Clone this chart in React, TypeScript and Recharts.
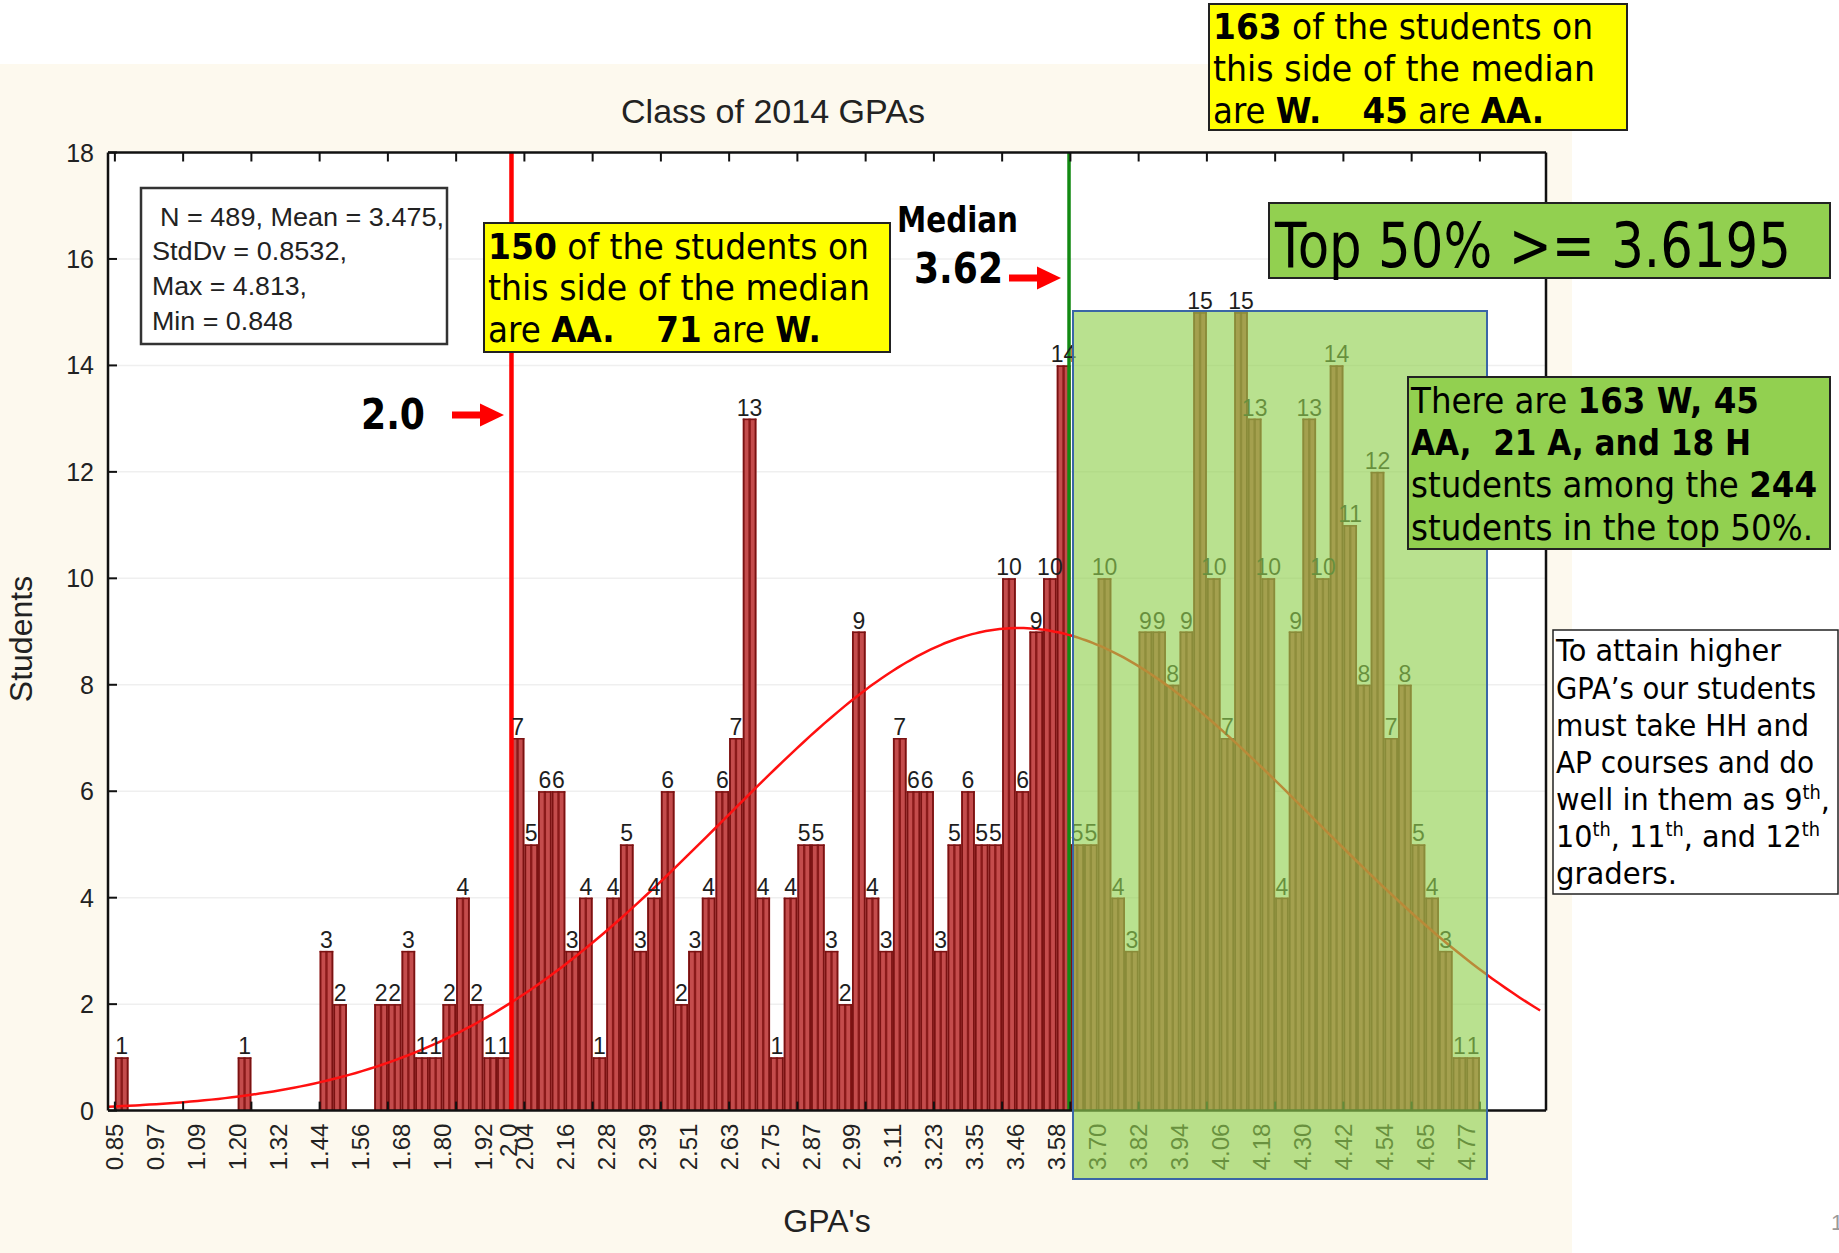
import React from "react";
import {
  ComposedChart,
  Bar,
  Line,
  XAxis,
  YAxis,
  CartesianGrid,
  ReferenceLine,
  LabelList,
} from "recharts";

// ---------------- data ----------------
const BIN_START = 0.848;
const BIN_WIDTH = 0.03965;
const COUNTS = [
  1, 0, 0, 0, 0, 0, 0, 0, 0, 1,
  0, 0, 0, 0, 0, 3, 2, 0, 0, 2,
  2, 3, 1, 1, 2, 4, 2, 1, 1, 7,
  5, 6, 6, 3, 4, 1, 4, 5, 3, 4,
  6, 2, 3, 4, 6, 7, 13, 4, 1, 4,
  5, 5, 3, 2, 9, 4, 3, 7, 6, 6,
  3, 5, 6, 5, 5, 10, 6, 9, 10, 14,
  5, 5, 10, 4, 3, 9, 9, 8, 9, 15,
  10, 7, 15, 13, 10, 4, 9, 13, 10, 14,
  11, 8, 12, 7, 8, 5, 4, 3, 1, 1,
];
const X_TICK_LABELS = [
  "0.85", "0.97", "1.09", "1.20", "1.32", "1.44", "1.56", "1.68", "1.80", "1.92",
  "2.04", "2.16", "2.28", "2.39", "2.51", "2.63", "2.75", "2.87", "2.99", "3.11",
  "3.23", "3.35", "3.46", "3.58", "3.70", "3.82", "3.94", "4.06", "4.18", "4.30",
  "4.42", "4.54", "4.65", "4.77",
];
const Y_TICKS = [0, 2, 4, 6, 8, 10, 12, 14, 16, 18];
const STATS_N = 489;
const STATS_MEAN = 3.475;
const STATS_SD = 0.8532;
const STATS_MAX = 4.813;
const STATS_MIN = 0.848;
const MEDIAN = 3.6195;
const CUTOFF = 2.0;

// ---------------- layout ----------------
const W = 1839;
const H = 1253;
const PLOT = { left: 108, right: 1546, top: 152.5, bottom: 1110.6 };
const X_DOMAIN: [number, number] = [0.828, 5.005];
const Y_AXIS_W = 60;
const X_AXIS_H = 100;
const EDGE_AXIS = 1; // thickness reserved for top / right frame axes
const BAR_SIZE =
  ((PLOT.right - PLOT.left) * BIN_WIDTH) / (X_DOMAIN[1] - X_DOMAIN[0]) - 0.03;

const CHART_FONT = '"Liberation Sans", Arial, sans-serif';
const NOTE_FONT = '"DejaVu Sans", Verdana, sans-serif';

// ---------------- derived tables ----------------
const barData = COUNTS.map((count, i) => ({
  x: BIN_START + (i + 0.5) * BIN_WIDTH,
  count,
}));
const labelTicks = X_TICK_LABELS.map((_, k) => BIN_START + 3 * k * BIN_WIDTH);
const markTicks = Array.from({ length: 21 }, (_, k) => BIN_START + 5 * k * BIN_WIDTH);
const keyOf = (v: number) => Number(v).toFixed(4);
const labelMap = new Map<string, string>();
labelTicks.forEach((v, k) => labelMap.set(keyOf(v), X_TICK_LABELS[k]));
const markSet = new Set(markTicks.map(keyOf));
const bottomTicks = Array.from(new Set([...labelTicks, ...markTicks].map(keyOf)))
  .map(Number)
  .sort((a, b) => a - b);

// fitted normal curve from the chart's own stated N / Mean / StdDv
const curveData: { x: number; y: number }[] = [];
for (let k = 0; ; k++) {
  const gx = X_DOMAIN[0] + k * 0.02;
  if (gx > X_DOMAIN[1] + 1e-9) break;
  const z = (gx - STATS_MEAN) / STATS_SD;
  const y =
    ((STATS_N * BIN_WIDTH) / (STATS_SD * Math.sqrt(2 * Math.PI))) * Math.exp(-0.5 * z * z);
  curveData.push({ x: gx, y });
}

// ---------------- tick renderers ----------------
const BottomTick = (props: any) => {
  const { x, y, payload } = props;
  const key = keyOf(payload.value);
  const label = labelMap.get(key);
  const isMark = markSet.has(key);
  return (
    <g>
      {isMark && <line x1={x} x2={x} y1={y} y2={y - 9} stroke="#111" strokeWidth={2} />}
      {label && (
        <text
          transform={`translate(${x},${y + 13}) rotate(-90)`}
          textAnchor="end"
          dominantBaseline="central"
          fontSize={24}
          fontFamily={CHART_FONT}
          fill="#222"
        >
          {label}
        </text>
      )}
    </g>
  );
};

const TopTick = (props: any) => {
  const { x, y } = props;
  return <line x1={x} x2={x} y1={y} y2={y + 9} stroke="#111" strokeWidth={2} />;
};

const LeftTick = (props: any) => {
  const { x, y, payload } = props;
  return (
    <g>
      <line x1={x} x2={x + 9} y1={y} y2={y} stroke="#111" strokeWidth={2} />
      <text
        x={x - 14}
        y={y}
        textAnchor="end"
        dominantBaseline="central"
        fontSize={25}
        fontFamily={CHART_FONT}
        fill="#222"
      >
        {payload.value}
      </text>
    </g>
  );
};

const RightTick = (props: any) => {
  const { x, y } = props;
  return <line x1={x} x2={x - 9} y1={y} y2={y} stroke="#111" strokeWidth={2} />;
};

const StripedBar = (props: any) => {
  const { x, y, width, height } = props;
  if (!height || height <= 0) return null;
  const d = "#7a1212";
  return (
    <g>
      <rect x={x} y={y} width={width} height={height} fill="#c44c4c" />
      <rect x={x} y={y} width={1.8} height={height} fill={d} />
      <rect x={x + width - 1.8} y={y} width={1.8} height={height} fill={d} />
      <rect x={x + width / 2 - 1.2} y={y} width={2.4} height={height} fill="#8a1a1a" />
      <rect x={x} y={y} width={width} height={1.5} fill={d} />
    </g>
  );
};

const BarLabel = (props: any) => {
  const vb = props.viewBox || props;
  const { x, y, width } = vb;
  const value = props.value;
  if (!value) return null;
  return (
    <text
      x={x + width / 2}
      y={y - 3}
      textAnchor="middle"
      fontSize={23}
      fontFamily={CHART_FONT}
      fill="#1e1e1e"
    >
      {value}
    </text>
  );
};

const CutoffAxisLabel = (props: any) => {
  const vb = props.viewBox || {};
  const x = vb.x;
  const y = (vb.y || 0) + (vb.height || 0);
  return (
    <text
      transform={`translate(${x - 3},${y + 13}) rotate(-90)`}
      textAnchor="end"
      dominantBaseline="central"
      fontSize={24}
      fontFamily={CHART_FONT}
      fill="#222"
    >
      2.0
    </text>
  );
};

// ---------------- annotation helpers ----------------
type Seg = { t: string; b?: boolean; sup?: boolean };

const NoteLine = ({
  x,
  y,
  w,
  size,
  segs,
  fill = "#000",
  weight = "normal",
}: {
  x: number;
  y: number;
  w?: number;
  size: number;
  segs: Seg[];
  fill?: string;
  weight?: string;
}) => {
  let raised = false;
  return (
    <text
      x={x}
      y={y}
      fontSize={size}
      fontFamily={NOTE_FONT}
      fontWeight={weight}
      fill={fill}
      textLength={w}
      lengthAdjust={w ? "spacingAndGlyphs" : undefined}
      style={{ whiteSpace: "pre" }}
    >
      {segs.map((s, i) => {
        let dy = 0;
        if (s.sup && !raised) {
          dy = -size * 0.38;
          raised = true;
        } else if (!s.sup && raised) {
          dy = size * 0.38;
          raised = false;
        }
        return (
          <tspan
            key={i}
            fontWeight={s.b ? "bold" : undefined}
            fontSize={s.sup ? size * 0.62 : undefined}
            dy={dy || undefined}
          >
            {s.t}
          </tspan>
        );
      })}
    </text>
  );
};

const Arrow = ({ x1, x2, y }: { x1: number; x2: number; y: number }) => {
  const head = 24;
  return (
    <g fill="#ff0000">
      <rect x={x1} y={y - 3.5} width={x2 - x1 - head + 2} height={7} />
      <polygon points={`${x2 - head},${y - 11.5} ${x2},${y} ${x2 - head},${y + 11.5}`} />
    </g>
  );
};

// ---------------- component ----------------
export default function App() {
  return (
    <div style={{ position: "absolute", left: 0, top: 0, width: W, height: H, background: "#ffffff", overflow: "hidden" }}>
      {/* background */}
      <svg width={W} height={H} style={{ position: "absolute", left: 0, top: 0 }}>
        <rect x={0} y={64} width={1572} height={H - 64} fill="#fdf9ee" />
        <rect
          x={PLOT.left}
          y={PLOT.top}
          width={PLOT.right - PLOT.left}
          height={PLOT.bottom - PLOT.top}
          fill="#ffffff"
        />
      </svg>

      {/* chart */}
      <div style={{ position: "absolute", left: 0, top: 0 }}>
        <ComposedChart
          width={W}
          height={H}
          data={barData}
          margin={{
            top: PLOT.top - EDGE_AXIS,
            right: W - PLOT.right - EDGE_AXIS,
            bottom: H - PLOT.bottom - X_AXIS_H,
            left: PLOT.left - Y_AXIS_W,
          }}
          barCategoryGap={0}
          barGap={0}
        >
          <CartesianGrid horizontal vertical={false} stroke="#efefef" strokeWidth={1.5} />
          <XAxis
            dataKey="x"
            type="number"
            domain={X_DOMAIN}
            allowDataOverflow
            ticks={bottomTicks}
            interval={0}
            tick={<BottomTick />}
            tickLine={false}
            tickSize={0}
            tickMargin={0}
            height={X_AXIS_H}
            axisLine={{ stroke: "#111", strokeWidth: 2.5 }}
          />
          <XAxis
            xAxisId="top"
            orientation="top"
            dataKey="x"
            type="number"
            domain={X_DOMAIN}
            allowDataOverflow
            ticks={markTicks}
            interval={0}
            tick={<TopTick />}
            tickLine={false}
            tickSize={0}
            tickMargin={0}
            height={EDGE_AXIS}
            axisLine={{ stroke: "#111", strokeWidth: 2.5 }}
          />
          <XAxis
            xAxisId="curve"
            dataKey="x"
            type="number"
            domain={X_DOMAIN}
            allowDataOverflow
            hide
          />
          <YAxis
            type="number"
            domain={[0, 18]}
            ticks={Y_TICKS}
            interval={0}
            tick={<LeftTick />}
            tickLine={false}
            tickSize={0}
            tickMargin={0}
            width={Y_AXIS_W}
            axisLine={{ stroke: "#111", strokeWidth: 2.5 }}
          />
          <YAxis
            yAxisId="right"
            orientation="right"
            type="number"
            domain={[0, 18]}
            ticks={Y_TICKS}
            interval={0}
            tick={<RightTick />}
            tickLine={false}
            tickSize={0}
            tickMargin={0}
            width={EDGE_AXIS}
            axisLine={{ stroke: "#111", strokeWidth: 2.5 }}
          />
          <ReferenceLine x={MEDIAN} stroke="#138a13" strokeWidth={3.5} />
          <Bar
            dataKey="count"
            barSize={BAR_SIZE}
            shape={<StripedBar />}
            isAnimationActive={false}
          >
            <LabelList dataKey="count" content={<BarLabel />} />
          </Bar>
          <Line
            data={curveData}
            xAxisId="curve"
            dataKey="y"
            type="monotone"
            dot={false}
            activeDot={false}
            stroke="#ff1010"
            strokeWidth={2.5}
            isAnimationActive={false}
          />
          <ReferenceLine
            x={CUTOFF}
            stroke="#ff0000"
            strokeWidth={4.5}
            label={<CutoffAxisLabel />}
          />
        </ComposedChart>
      </div>

      {/* overlay annotations */}
      <svg width={W} height={H} style={{ position: "absolute", left: 0, top: 0, pointerEvents: "none" }}>
        {/* titles */}
        <text x={773} y={123} textAnchor="middle" fontSize={34} fontFamily={CHART_FONT} fill="#222" textLength={304} lengthAdjust="spacingAndGlyphs">
          Class of 2014 GPAs
        </text>
        <text
          transform="translate(32,639) rotate(-90)"
          textAnchor="middle"
          fontSize={32}
          fontFamily={CHART_FONT}
          fill="#222"
        >
          Students
        </text>
        <text x={827} y={1232} textAnchor="middle" fontSize={32} fontFamily={CHART_FONT} fill="#222">
          GPA's
        </text>

        {/* stats box */}
        <rect x={141} y={188} width={306} height={156} fill="#ffffff" stroke="#333" strokeWidth={2.5} />
        <text x={160} y={226} fontSize={25} fontFamily={CHART_FONT} fill="#222" textLength={284} lengthAdjust="spacingAndGlyphs">
          {`N = ${STATS_N}, Mean = ${STATS_MEAN},`}
        </text>
        <text x={152} y={260} fontSize={25} fontFamily={CHART_FONT} fill="#222" textLength={195} lengthAdjust="spacingAndGlyphs">
          {`StdDv = ${STATS_SD},`}
        </text>
        <text x={152} y={295} fontSize={25} fontFamily={CHART_FONT} fill="#222" textLength={155} lengthAdjust="spacingAndGlyphs">
          {`Max = ${STATS_MAX},`}
        </text>
        <text x={152} y={330} fontSize={25} fontFamily={CHART_FONT} fill="#222" textLength={141} lengthAdjust="spacingAndGlyphs">
          {`Min = ${STATS_MIN}`}
        </text>

        {/* green top-50% overlay */}
        <rect x={1073} y={311} width={414} height={868} fill="rgba(146,208,80,0.64)" stroke="#3a66a6" strokeWidth={2} />

        {/* yellow box 1 */}
        <rect x={484} y={223} width={406} height={129} fill="#ffff00" stroke="#222" strokeWidth={2} />
        <NoteLine x={488} y={259} w={381} size={35} segs={[{ t: "150", b: true }, { t: " of the students on" }]} />
        <NoteLine x={488} y={300} w={382} size={35} segs={[{ t: "this side of the median" }]} />
        <NoteLine
          x={488}
          y={342}
          w={333}
          size={35}
          segs={[{ t: "are " }, { t: "AA.", b: true }, { t: "    " }, { t: "71", b: true }, { t: " are " }, { t: "W.", b: true }]}
        />

        {/* yellow box 2 */}
        <rect x={1209} y={4} width={418} height={126} fill="#ffff00" stroke="#222" strokeWidth={2} />
        <NoteLine x={1213} y={39} w={380} size={35} segs={[{ t: "163", b: true }, { t: " of the students on" }]} />
        <NoteLine x={1213} y={81} w={382} size={35} segs={[{ t: "this side of the median" }]} />
        <NoteLine
          x={1213}
          y={123}
          w={331}
          size={35}
          segs={[{ t: "are " }, { t: "W.", b: true }, { t: "    " }, { t: "45", b: true }, { t: " are " }, { t: "AA.", b: true }]}
        />

        {/* median + cutoff labels */}
        <NoteLine x={897} y={232} w={121} size={35} weight="bold" segs={[{ t: "Median" }]} />
        <NoteLine x={914} y={283} w={89} size={42} weight="bold" segs={[{ t: "3.62" }]} />
        <Arrow x1={1009} x2={1061} y={278} />
        <NoteLine x={361} y={429} w={64} size={42} weight="bold" segs={[{ t: "2.0" }]} />
        <Arrow x1={452} x2={504} y={415} />

        {/* top 50% box */}
        <rect x={1269} y={203} width={561} height={75} fill="#92d050" stroke="#222" strokeWidth={2} />
        <NoteLine x={1275} y={267} w={516} size={62} segs={[{ t: "Top 50% >= 3.6195" }]} />

        {/* green info box */}
        <rect x={1408} y={377} width={422} height={172} fill="#92d050" stroke="#222" strokeWidth={2} />
        <NoteLine x={1411} y={413} w={348} size={35} segs={[{ t: "There are " }, { t: "163 W, 45", b: true }]} />
        <NoteLine x={1411} y={455} w={340} size={35} segs={[{ t: "AA,  21 A, and 18 H", b: true }]} />
        <NoteLine x={1411} y={497} w={406} size={35} segs={[{ t: "students among the " }, { t: "244", b: true }]} />
        <NoteLine x={1411} y={540} w={402} size={35} segs={[{ t: "students in the top 50%." }]} />

        {/* white note box */}
        <rect x={1553} y={630} width={285} height={264} fill="#ffffff" stroke="#222" strokeWidth={1.5} />
        <NoteLine x={1556} y={661} w={225} size={30} segs={[{ t: "To attain higher" }]} />
        <NoteLine x={1556} y={699} w={260} size={30} segs={[{ t: "GPA\u2019s our students" }]} />
        <NoteLine x={1556} y={736} w={253} size={30} segs={[{ t: "must take HH and" }]} />
        <NoteLine x={1556} y={773} w={258} size={30} segs={[{ t: "AP courses and do" }]} />
        <NoteLine
          x={1556}
          y={810}
          w={274}
          size={30}
          segs={[{ t: "well in them as 9" }, { t: "th", sup: true }, { t: "," }]}
        />
        <NoteLine
          x={1556}
          y={847}
          w={264}
          size={30}
          segs={[
            { t: "10" },
            { t: "th", sup: true },
            { t: ", 11" },
            { t: "th", sup: true },
            { t: ", and 12" },
            { t: "th", sup: true },
          ]}
        />
        <NoteLine x={1556} y={884} w={121} size={30} segs={[{ t: "graders." }]} />

        {/* slide number */}
        <text x={1831} y={1230} fontSize={22} fontFamily={CHART_FONT} fill="#9a9a9a">
          1
        </text>
      </svg>
    </div>
  );
}
